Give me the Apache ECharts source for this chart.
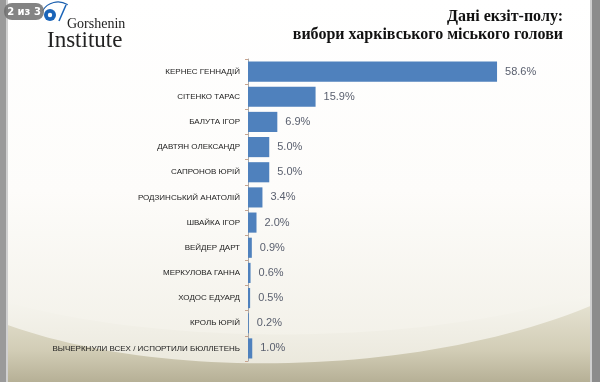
<!DOCTYPE html>
<html><head><meta charset="utf-8">
<script src="https://cdn.jsdelivr.net/npm/echarts@6/dist/echarts.min.js"></script>
<style>html,body{margin:0;padding:0;background:#fff}#c{width:600px;height:382px}</style>
</head><body><div id="c"></div>
<script>
const categories = ['КЕРНЕС ГЕННАДІЙ','СІТЕНКО ТАРАС','БАЛУТА ІГОР','ДАВТЯН ОЛЕКСАНДР','САПРОНОВ ЮРІЙ','РОДЗИНСЬКИЙ АНАТОЛІЙ','ШВАЙКА ІГОР','ВЕЙДЕР ДАРТ','МЕРКУЛОВА ГАННА','ХОДОС ЕДУАРД','КРОЛЬ ЮРІЙ','ВЫЧЕРКНУЛИ ВСЕХ / ИСПОРТИЛИ БЮЛЛЕТЕНЬ'];
const values = [58.6,15.9,6.9,5.0,5.0,3.4,2.0,0.9,0.6,0.5,0.2,1.0];
const titleLines = ['Дані екзіт-полу:','вибори харківського міського голови'];

function bez(p0,p1,p2,p3,n){
  const pts=[];
  for(let i=0;i<=n;i++){const t=i/n,u=1-t;
    pts.push([u*u*u*p0[0]+3*u*u*t*p1[0]+3*u*t*t*p2[0]+t*t*t*p3[0], u*u*u*p0[1]+3*u*u*t*p1[1]+3*u*t*t*p2[1]+t*t*t*p3[1]]);}
  return pts;
}
const wave1 = bez([0,322],[150,380],[420,380],[600,302],50).concat([[600,382],[0,382]]);
const wave0 = bez([0,300],[150,345],[420,350],[600,290],50).concat([[600,382],[0,382]]);

const chart = echarts.init(document.getElementById('c'), null, {renderer:'canvas'});
const tstyle = {fontWeight:'bold', fontSize:16, fontFamily:'"Liberation Serif", serif', fill:'#111', align:'right', verticalAlign:'middle'};
chart.setOption({
  backgroundColor: '#fdfdfb',
  animation: false,
  graphic: [
    {type:'rect', shape:{x:0,y:0,width:600,height:382}, style:{fill:{type:'linear',x:0,y:0,x2:0,y2:1,colorStops:[{offset:0,color:'#ffffff'},{offset:0.5,color:'#fdfcfa'},{offset:1,color:'#f0eee4'}]}}, z:-10},
    {type:'polygon', shape:{points:wave0}, style:{fill:{type:'linear',x:0,y:0,x2:0,y2:1,colorStops:[{offset:0,color:'#f7f6f0'},{offset:1,color:'#e8e5d8'}]}}, z:-9},
    {type:'polygon', shape:{points:wave1}, style:{fill:{type:'linear',x:0,y:0,x2:0,y2:1,colorStops:[{offset:0,color:'#e6e3d3'},{offset:0.6,color:'#d2cdb6'},{offset:1,color:'#b6b096'}]}}, z:-8},
    {type:'rect', shape:{x:0,y:0,width:6,height:382}, style:{fill:'#9a9a9a'}, z:5},
    {type:'rect', shape:{x:6,y:0,width:2,height:382}, style:{fill:'#d0d0d0'}, z:5},
    {type:'rect', shape:{x:592,y:0,width:8,height:382}, style:{fill:'#8c8c8c'}, z:5},
    {type:'rect', shape:{x:590,y:0,width:2,height:382}, style:{fill:'#cfcfcf'}, z:5},
    {type:'text', style:Object.assign({text:titleLines[0], x:563, y:17}, tstyle)},
    {type:'text', style:Object.assign({text:titleLines[1], x:563, y:35}, tstyle)},
    {type:'arc', shape:{cx:58,cy:20,r:18,startAngle:-2.6,endAngle:-1.0}, style:{stroke:'#1b5fae',lineWidth:1.2,fill:null}, z:6},
    {type:'circle', shape:{cx:50,cy:15,r:6}, style:{fill:'#1a64b8'}, z:6},
    {type:'circle', shape:{cx:50,cy:15,r:2.2}, style:{fill:'#ffffff'}, z:7},
    {type:'line', shape:{x1:66,y1:5,x2:59,y2:21}, style:{stroke:'#1a64b8',lineWidth:1.6}, z:6},
    {type:'text', style:{text:'Gorshenin', x:67, y:24, verticalAlign:'middle', fontSize:14, fontFamily:'"Liberation Serif", serif', fill:'#222'}},
    {type:'text', style:{text:'Institute', x:47, y:41, verticalAlign:'middle', fontSize:23, fontFamily:'"Liberation Serif", serif', fill:'#222'}},
    {type:'rect', shape:{x:4,y:3,width:40,height:17,r:8}, style:{fill:'rgba(110,110,110,0.85)'}, z:8},
    {type:'text', style:{text:'2 из 3', x:24, y:12, align:'center', verticalAlign:'middle', fontWeight:'bold', fontSize:10, fontFamily:'"DejaVu Sans", sans-serif', fill:'#fff'}, z:9}
  ],
  grid: {left:248, top:59, right:97, bottom:21, containLabel:false},
  xAxis: {type:'value', min:0, max:60, show:false},
  yAxis: {
    type:'category', data:categories, inverse:true,
    axisLine:{show:true, lineStyle:{color:'#a9a9a9', width:1}},
    axisTick:{show:true, length:3, lineStyle:{color:'#c9a58f'}},
    axisLabel:{fontSize:8, color:'#222', fontFamily:'"Liberation Sans Narrow", "Liberation Sans", sans-serif', margin:8}
  },
  series: [{
    type:'bar', data:values, barCategoryGap:'20%',
    itemStyle:{color:'#4f81bd'},
    label:{show:true, position:'right', distance:8, formatter: p => p.value.toFixed(1)+'%', fontSize:11, color:'#595f6e', fontFamily:'"Liberation Sans", sans-serif'}
  }]
});
</script></body></html>
